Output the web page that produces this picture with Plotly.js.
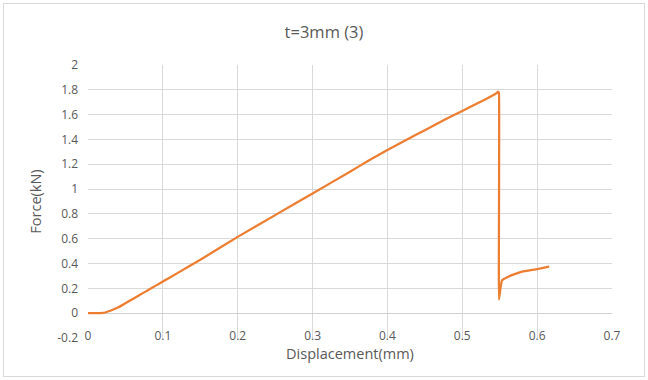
<!DOCTYPE html>
<html>
<head>
<meta charset="utf-8">
<script src="https://cdn.plot.ly/plotly-3.0.1.min.js"></script>
<style>
  html, body { margin: 0; padding: 0; background: #fff; }
  #wrap { position: relative; width: 648px; height: 380px; }
  #chart { width: 648px; height: 380px; }
  #frame { position: absolute; left: 3px; top: 3px; width: 640px; height: 372px; border: 1px solid #d9d9d9; pointer-events: none; }
</style>
</head>
<body>
<div id="wrap"><div id="chart"></div><div id="frame"></div></div>
<script>
const displacement = [0, 0.01, 0.02, 0.03, 0.04, 0.05, 0.06, 0.07, 0.08, 0.09, 0.1, 0.12, 0.15, 0.2, 0.25, 0.3, 0.35, 0.375, 0.4, 0.425, 0.45, 0.475, 0.5, 0.53, 0.545, 0.548, 0.549, 0.549, 0.551, 0.553, 0.56, 0.57, 0.58, 0.6, 0.616];
const force =        [0, 0,    0.002, 0.02, 0.045, 0.08, 0.115, 0.15, 0.185, 0.22, 0.255, 0.325, 0.43, 0.615, 0.79, 0.965, 1.14, 1.23, 1.315, 1.395, 1.475, 1.555, 1.63, 1.72, 1.77, 1.785, 1.77, 0.11, 0.2, 0.265, 0.29, 0.315, 0.335, 0.355, 0.375];
const xTicks = [0, 0.1, 0.2, 0.3, 0.4, 0.5, 0.6, 0.7];
const xTickLabels = ['0', '0.1', '0.2', '0.3', '0.4', '0.5', '0.6', '0.7'];
const yTicks = [-0.2, 0, 0.2, 0.4, 0.6, 0.8, 1, 1.2, 1.4, 1.6, 1.8, 2];
const yTickLabels = ['-0.2', '0', '0.2', '0.4', '0.6', '0.8', '1', '1.2', '1.4', '1.6', '1.8', '2'];

const fontFam = 'Open Sans, Noto Sans, sans-serif';
const grey = '#595959';

Plotly.newPlot('chart', [{
  x: displacement,
  y: force,
  type: 'scatter',
  mode: 'lines',
  line: { color: '#ED7D31', width: 2.25, shape: 'spline', smoothing: 0.3 },
  hoverinfo: 'skip'
}], {
  width: 648,
  height: 380,
  margin: { l: 88, r: 36, t: 65, b: 42 },
  paper_bgcolor: 'rgba(0,0,0,0)',
  plot_bgcolor: '#fff',
  showlegend: false,
  title: { text: 't=3mm (3)', x: 0.5, xanchor: 'center', y: 0.915, yanchor: 'middle', font: { family: fontFam, size: 16.5, color: grey } },
  xaxis: {
    range: [0, 0.7],
    tickvals: xTicks,
    ticktext: xTickLabels,
    showgrid: true,
    gridcolor: '#d9d9d9',
    gridwidth: 1,
    zeroline: false,
    showline: false,
    ticks: '',
    ticklabelstandoff: -11,
    tickfont: { family: fontFam, size: 12, color: grey },
    title: { text: 'Displacement(mm)', font: { family: fontFam, size: 14.5, color: grey }, standoff: 2 }
  },
  yaxis: {
    range: [-0.2, 2],
    tickvals: yTicks,
    ticktext: yTickLabels,
    showgrid: true,
    gridcolor: '#d9d9d9',
    gridwidth: 1,
    zeroline: true,
    zerolinecolor: '#d0d0d0',
    zerolinewidth: 1,
    showline: false,
    ticks: '',
    ticklabelstandoff: 9,
    tickfont: { family: fontFam, size: 12, color: grey },
    title: { text: 'Force(kN)', font: { family: fontFam, size: 14.5, color: grey }, standoff: 12 }
  }
}, { displayModeBar: false, staticPlot: true });
</script>
</body>
</html>
